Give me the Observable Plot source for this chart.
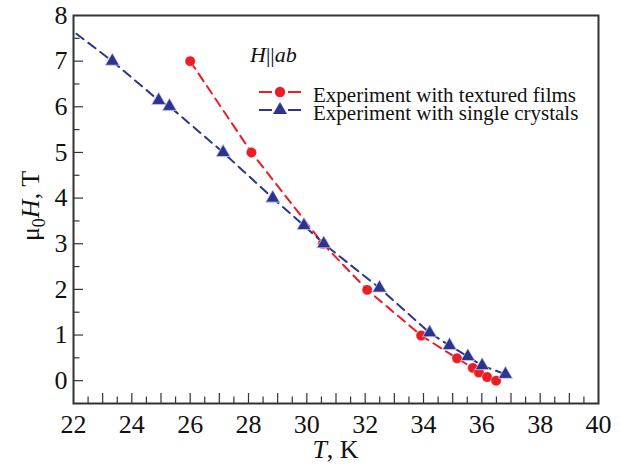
<!DOCTYPE html>
<html><head><meta charset="utf-8">
<script src="https://cdn.jsdelivr.net/npm/d3@7"></script>
<script src="https://cdn.jsdelivr.net/npm/@observablehq/plot@0.6"></script>
<style>body{margin:0;background:#fff} svg text, svg tspan {font-family: "Liberation Serif", serif !important;}</style>
</head><body><div id="chart"></div>
<script>
// Data
const filmsT = [26.0, 28.1, 30.55, 32.07, 33.92, 35.15, 35.69, 35.9, 36.18, 36.49];
const filmsH = [7.0, 5.0, 3.0, 1.99, 0.99, 0.49, 0.28, 0.18, 0.08, 0.0];
const crystalT = [23.33, 24.92, 25.29, 27.13, 28.83, 29.9, 30.58, 32.49, 34.21, 34.89, 35.52, 36.01, 36.81];
const crystalH = [7.0, 6.14, 6.01, 5.0, 4.0, 3.4, 3.0, 2.03, 1.05, 0.77, 0.53, 0.33, 0.14];
// dashed guide line for single crystals extends to the left edge
const crystalLineT = [22.1, ...crystalT];
const crystalLineH = [7.6, ...crystalH];

const xTickLabels = [22, 24, 26, 28, 30, 32, 34, 36, 38, 40];
const yTickLabels = [0, 1, 2, 3, 4, 5, 6, 7, 8];
const xMajorTicks = d3.range(23, 40, 1);
const xMinorTicks = d3.range(22.5, 40, 1);
const yMajorTicks = d3.range(0, 8, 1);
const yMinorTicks = d3.range(0.5, 8, 1);

const seriesNames = ["Experiment with textured films", "Experiment with single crystals"];
const red = "#ec1c24", blue = "#2b3590";

const W = 622, H = 466, mL = 73, mR = 24, mT = 15, mB = 63;
const plotW = W - mL - mR, plotH = H - mT - mB;
const font = "Liberation Serif, serif";

const films = filmsT.map((t, i) => ({T: t, H: filmsH[i]}));
const crystals = crystalT.map((t, i) => ({T: t, H: crystalH[i]}));
const crystalLine = crystalLineT.map((t, i) => ({T: t, H: crystalLineH[i]}));
const triR = Math.sqrt(14 * 14 * Math.sqrt(3) / 4 / Math.PI);

const chart = Plot.plot({
  width: W, height: H,
  marginLeft: mL, marginRight: mR, marginTop: mT, marginBottom: mB,
  style: "font-family: 'Liberation Serif', serif; font-size: 26px; color: #111; background: #fff; overflow: visible;",
  x: {domain: [22, 40]},
  y: {domain: [-0.5, 8]},
  marks: [
    Plot.axisX({ticks: xTickLabels, tickSize: 0, tickPadding: 11, label: null, fontSize: 26, fontFamily: font, fill: "#111"}),
    Plot.axisY({ticks: yTickLabels, tickSize: 0, tickPadding: 6, label: null, fontSize: 26, fontFamily: font, fill: "#111"}),
    Plot.tickX(xMajorTicks, {x: d => d, insetTop: plotH - 10, stroke: "#333", strokeWidth: 1.2}),
    Plot.tickX(xMinorTicks, {x: d => d, insetTop: plotH - 6.5, stroke: "#333", strokeWidth: 1.2}),
    Plot.tickY(yMajorTicks, {y: d => d, insetRight: plotW - 10, stroke: "#333", strokeWidth: 1.2}),
    Plot.tickY(yMinorTicks, {y: d => d, insetRight: plotW - 6.5, stroke: "#333", strokeWidth: 1.2}),
    Plot.line(films, {x: "T", y: "H", stroke: red, strokeWidth: 2, strokeDasharray: "9,6"}),
    Plot.line(crystalLine, {x: "T", y: "H", stroke: blue, strokeWidth: 2, strokeDasharray: "9,6"}),
    Plot.dot(films, {x: "T", y: "H", r: 5.2, fill: red, stroke: "#fff", strokeWidth: 0.4}),
    Plot.dot(crystals, {x: "T", y: "H", r: triR, symbol: "triangle", fill: blue, stroke: "#c8cbe6", strokeWidth: 0.8}),
    Plot.frame({stroke: "#333", strokeWidth: 2})
  ]
});
document.getElementById("chart").appendChild(chart);

const svg = d3.select(chart);
// x axis title
const xt = svg.append("text").attr("x", mL + plotW / 2).attr("y", 458)
  .attr("text-anchor", "middle").attr("font-family", font).attr("font-size", 26).attr("fill", "#111");
xt.append("tspan").attr("font-style", "italic").text("T");
xt.append("tspan").text(", K");
// y axis title
const yt = svg.append("text").attr("transform", `translate(39,${mT + plotH / 2 - 3}) rotate(-90)`)
  .attr("text-anchor", "middle").attr("font-family", font).attr("font-size", 26).attr("fill", "#111");
yt.append("tspan").text("μ");
yt.append("tspan").attr("font-size", 18).attr("dy", 6).text("0");
yt.append("tspan").attr("font-style", "italic").attr("dy", -6).text("H");
yt.append("tspan").text(", T");

// legend
const lg = svg.append("g").attr("font-family", font).attr("fill", "#111").attr("text-anchor", "start");
const ht = lg.append("text").attr("x", 250).attr("y", 62).attr("font-size", 22).attr("text-anchor", "start");
ht.append("tspan").attr("font-style", "italic").text("H");
ht.append("tspan").text("||");
ht.append("tspan").attr("font-style", "italic").text("ab");
const rows = [{y: 92, color: red, sym: d3.symbolCircle, size: Math.PI * 5.2 * 5.2},
              {y: 110, color: blue, sym: d3.symbolTriangle, size: Math.PI * triR * triR}];
rows.forEach((r, i) => {
  lg.append("line").attr("x1", 259).attr("x2", 301).attr("y1", r.y).attr("y2", r.y)
    .attr("stroke", r.color).attr("stroke-width", 2).attr("stroke-dasharray", "13,16");
  lg.append("path").attr("d", d3.symbol(r.sym, r.size)()).attr("transform", `translate(280,${r.y})`).attr("fill", r.color);
  lg.append("text").attr("x", 313).attr("y", r.y + 9.5).attr("font-size", 21).attr("text-anchor", "start").text(seriesNames[i]);
});
</script>
</body></html>
